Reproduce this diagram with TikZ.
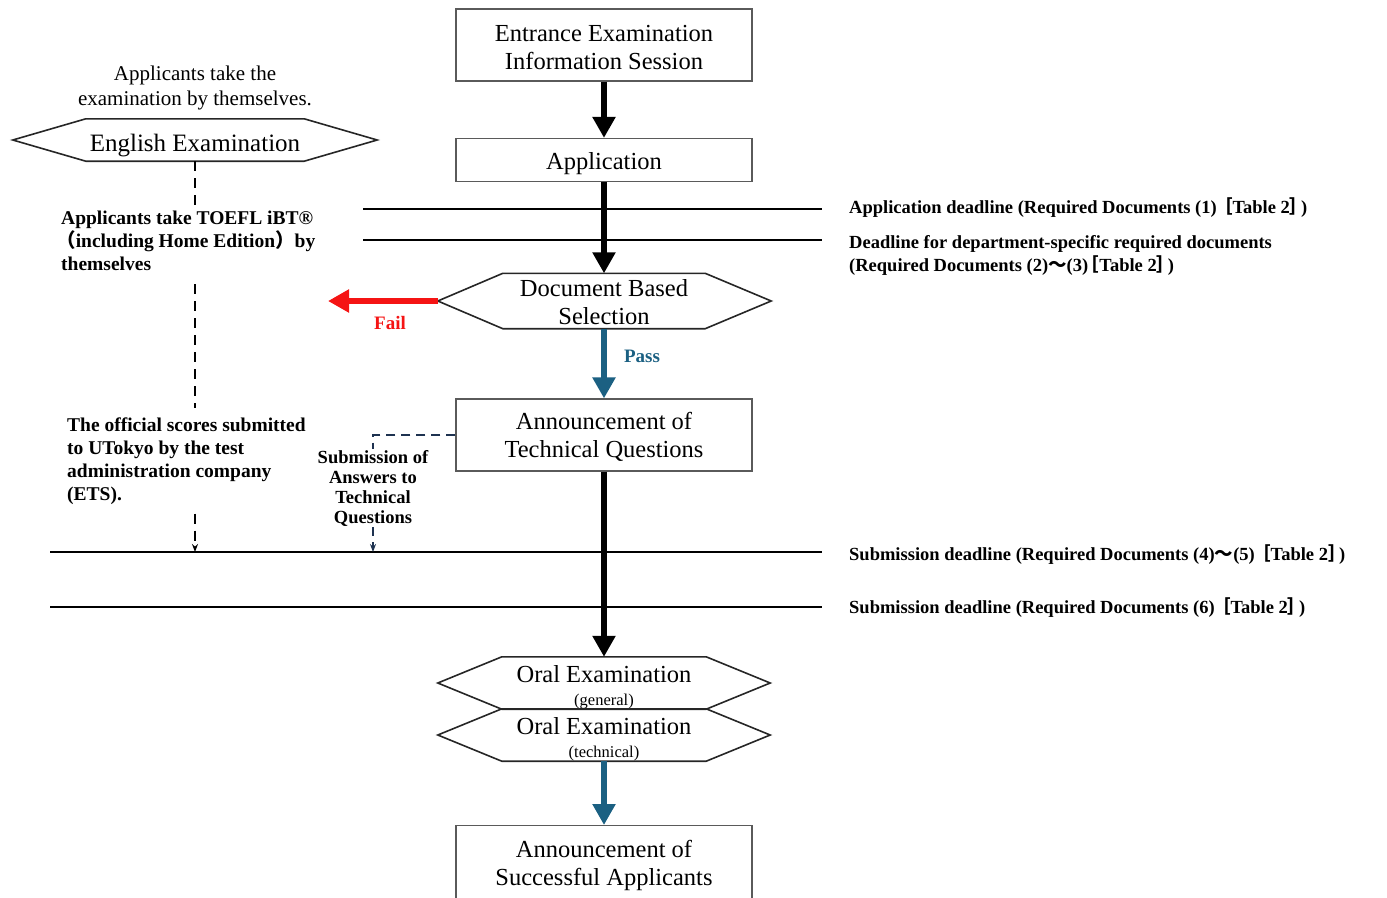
\documentclass[tikz,border=0pt]{standalone}
\usepackage{fontspec}
\setmainfont{Liberation Serif}
\newfontfamily\cjk{Noto Sans CJK JP}
\usetikzlibrary{arrows.meta,calc}
\definecolor{passblue}{RGB}{27,96,130}
\definecolor{failred}{RGB}{245,20,20}
\definecolor{boxgray}{RGB}{90,90,90}
\definecolor{navydash}{RGB}{30,50,80}
\newcommand{\lbr}{\hspace{-0.4em}{\cjk ［}}
\newcommand{\rbr}{{\cjk ］}\hspace{-0.4em}}
\newcommand{\lpa}{\hspace{-0.25em}{\cjk （}}
\newcommand{\rpa}{{\cjk ）}\hspace{-0.25em}}
\newcommand{\wdash}{{\cjk 〜}}
\newcommand{\up}[1]{\rule{0pt}{#1pt}}
\begin{document}
\begin{tikzpicture}[x=1pt,y=-1pt,
  box/.style={draw=boxgray,line width=1.2pt,minimum width=296pt,align=center,font=\fontsize{24.5}{28}\selectfont,inner sep=0pt},
  hexbody/.style={align=center,inner sep=0pt,font=\fontsize{24.5}{28}\selectfont},
  hexline/.style={draw=black!85,line width=1.6pt,line join=miter},
  bignote/.style={align=left,font=\bfseries\fontsize{19.5}{23}\selectfont,inner sep=1pt,anchor=west},
  deadline/.style={anchor=west,align=left,font=\bfseries\fontsize{18.5}{23}\selectfont,inner sep=0pt},
  mainarrow/.style={line width=6pt,-{Triangle[width=22pt,length=21pt]}},
  hline/.style={line width=1.3pt},
  etsdash/.style={line width=2pt,dash pattern=on 10pt off 7pt},
  subdash/.style={draw=navydash,line width=1.8pt,dash pattern=on 9pt off 6pt},
  smalltip/.style={-{Stealth[length=8pt,width=6pt]}}
]
\useasboundingbox (0,0) rectangle (1387,897);

% main column
\node[box,minimum height=72pt] (info) at (604,45) {\up{21.5}Entrance Examination\\Information Session};
\node[box,minimum height=43pt] (app) at (604,160) {\up{24.5}Application};
\node[hexbody,minimum width=202pt,minimum height=55pt] (dbs) at (604,301) {\up{19}Document Based\\Selection};
\coordinate (dbsW) at ($(dbs.west)+(-65,0)$);
\coordinate (dbsE) at ($(dbs.east)+(66,0)$);
\draw[hexline] (dbs.north west) -- (dbs.north east) -- (dbsE) -- (dbs.south east) -- (dbs.south west) -- (dbsW) -- cycle;
\node[box,minimum height=72pt] (tq) at (604,435) {\up{21.5}Announcement of\\Technical Questions};
\node[hexbody,minimum width=204pt,minimum height=52pt] (oral1) at (604,683) {\up{25}Oral Examination\\[-5pt]{\fontsize{16.5}{16}\selectfont (general)}};
\node[hexbody,minimum width=204pt,minimum height=52pt] (oral2) at (604,735) {\up{25}Oral Examination\\[-5pt]{\fontsize{16.5}{16}\selectfont (technical)}};
\draw[hexline] (oral1.north west) -- (oral1.north east) -- ($(oral1.east)+(64,0)$) -- (oral1.south east) -- (oral1.south west) -- ($(oral1.west)+(-64,0)$) -- cycle;
\draw[hexline] (oral2.north west) -- (oral2.north east) -- ($(oral2.east)+(64,0)$) -- (oral2.south east) -- (oral2.south west) -- ($(oral2.west)+(-64,0)$) -- cycle;
\node[box,minimum height=80pt,anchor=north] (succ) at (604,825) {Announcement of\\Successful Applicants};

% deadline lines
\coordinate (a1) at (363,209); \coordinate (a2) at (822,209);
\coordinate (b1) at (363,240); \coordinate (b2) at (822,240);
\coordinate (c1) at (50,552);  \coordinate (c2) at (822,552);
\coordinate (d1) at (50,607);  \coordinate (d2) at (822,607);
\draw[hline] (a1) -- (a2);
\draw[hline] (b1) -- (b2);
\draw[hline] (c1) -- (c2);
\draw[hline] (d1) -- (d2);

\node[deadline] (dl1) at (849,208) {Application deadline (Required Documents (1) \lbr Table 2\rbr)};
\node[deadline] (dl2) at (849,255) {Deadline for department-specific required documents\\(Required Documents (2)\wdash(3)\lbr Table 2\rbr)};
\node[deadline] (dl3) at (849,555) {Submission deadline (Required Documents (4)\wdash(5) \lbr Table 2\rbr)};
\node[deadline] (dl4) at (849,608) {Submission deadline (Required Documents (6) \lbr Table 2\rbr)};

% main arrows
\draw[mainarrow] (info) -- (app);
\draw[mainarrow] (app) -- (dbs);
\draw[mainarrow,passblue] (dbs) -- (tq);
\node[font=\bfseries\fontsize{19}{22}\selectfont,text=passblue] (pass) at (642,356) {Pass};
\draw[mainarrow] (tq) -- (oral1);
\draw[mainarrow,passblue] (oral2) -- (succ);
\coordinate (failend) at (328,301);
\draw[mainarrow,failred] (dbsW) -- (failend);
\node[font=\bfseries\fontsize{19}{22}\selectfont,text=failred] (fail) at (390,323) {Fail};

% left column
\node[font=\fontsize{21}{25}\selectfont,align=center] (note) at (195,88) {Applicants take the\\examination by themselves.};
\node[hexbody,minimum width=218pt,minimum height=42pt,font=\fontsize{25}{28}\selectfont] (eng) at (195,140) {\up{27.5}English Examination};
\draw[hexline] (eng.north west) -- (eng.north east) -- ($(eng.east)+(73,0)$) -- (eng.south east) -- (eng.south west) -- ($(eng.west)+(-73,0)$) -- cycle;
\node[bignote] (toefl) at (60,241) {Applicants take TOEFL iBT®\\\lpa including Home Edition\rpa\ by\\themselves};
\node[bignote] (ets) at (66,461) {The official scores submitted\\to UTokyo by the test\\administration company\\(ETS).};
\draw[etsdash] (eng.south) -- (eng.south |- toefl.north);
\draw[etsdash] ($(eng.south |- toefl.south)+(0,12)$) -- ($(eng.south |- ets.north)+(0,-8)$);
\draw[etsdash,smalltip] ($(eng.south |- ets.south)+(0,8)$) -- (eng.south |- c1);

\node[font=\bfseries\fontsize{18.5}{20}\selectfont,align=center,inner sep=1pt] (sub) at (373,488) {Submission of\\Answers to\\Technical\\Questions};
\draw[subdash] (tq.west) -- (tq.west -| sub.north) -- (sub.north);
\draw[subdash,smalltip] (sub.south) -- (sub.south |- c1);
\end{tikzpicture}
\end{document}
